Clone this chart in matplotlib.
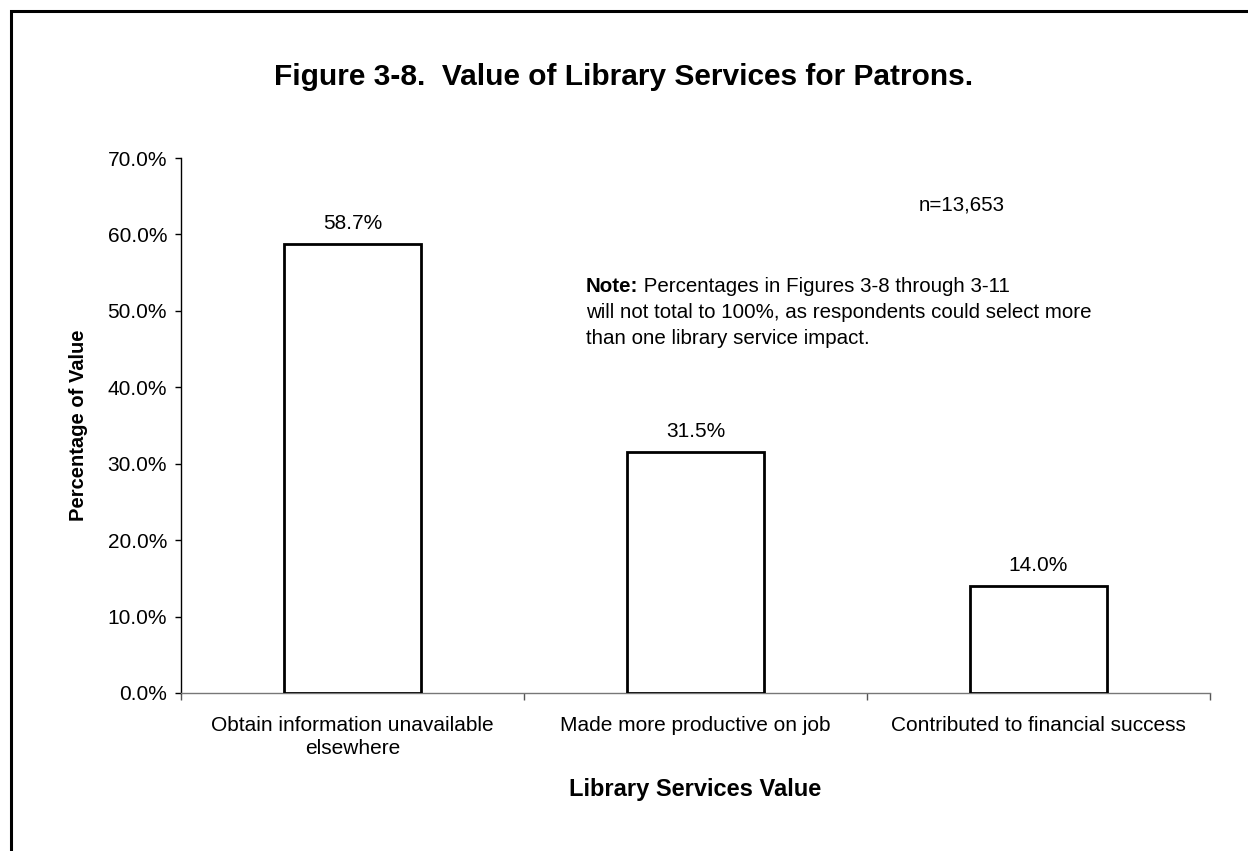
import matplotlib
matplotlib.use("Agg")
import matplotlib.pyplot as plt
from matplotlib.patches import Rectangle

plt.rcParams['font.family'] = ['Liberation Sans', 'DejaVu Sans']

categories = ["Obtain information unavailable\nelsewhere",
              "Made more productive on job",
              "Contributed to financial success"]
values = [58.7, 31.5, 14.0]
value_labels = ["58.7%", "31.5%", "14.0%"]
yticks = [0, 10, 20, 30, 40, 50, 60, 70]
ytick_labels = ["0.0%", "10.0%", "20.0%", "30.0%", "40.0%", "50.0%", "60.0%", "70.0%"]

W, H = 1248, 851
fig = plt.figure(figsize=(W / 100, H / 100), dpi=100)
fig.patch.set_facecolor("white")

# outer frame (clipped at right and bottom)
fig.add_artist(Rectangle((11 / W, -0.1), 1.2, (H - 11) / H + 0.1, transform=fig.transFigure,
                         fill=False, edgecolor="black", linewidth=2.2))

left, right, top, bottom = 181, 1210, 158, 693
ax = fig.add_axes([left / W, 1 - bottom / H, (right - left) / W, (bottom - top) / H])

x = list(range(len(categories)))
ax.bar(x, values, width=0.4, color="white", edgecolor="black", linewidth=2, zorder=3)
for xi, v, lab in zip(x, values, value_labels):
    ax.annotate(lab, (xi, v), xytext=(0, 11), textcoords="offset points",
                ha="center", va="baseline", fontsize=15)

ax.set_xlim(-0.5, 2.5)
ax.set_ylim(0, 70)
ax.set_yticks(yticks)
ax.set_yticklabels(ytick_labels, fontsize=15)
ax.set_xticks([-0.5, 0.5, 1.5, 2.5])
ax.set_xticklabels([])
ax.set_xticks(x, minor=True)
ax.set_xticklabels(categories, minor=True, fontsize=15, linespacing=1.3)
ax.tick_params(axis='x', which='minor', length=0, pad=16.5)
ax.tick_params(axis='x', which='major', length=5, width=1, color="#555555")
ax.tick_params(axis='y', length=4, width=1, pad=6)
for s in ["top", "right"]:
    ax.spines[s].set_visible(False)
ax.spines["left"].set_color("black")
ax.spines["bottom"].set_color("#777777")
ax.spines["left"].set_linewidth(1)
ax.spines["bottom"].set_linewidth(1)

ax.set_ylabel("Percentage of Value", fontsize=14.5, fontweight="bold", labelpad=14)
ax.set_xlabel("Library Services Value", fontsize=17, fontweight="bold", labelpad=14)

fig.text(624 / W, 1 - 77 / H, "Figure 3-8.  Value of Library Services for Patrons.",
         ha="center", va="center", fontsize=21.5, fontweight="bold")

ax.text(962 / W, 1 - 205 / H, "n=13,653", transform=fig.transFigure,
        ha="center", va="center", fontsize=14.8)

note_x = 586 / W
t1 = ax.text(note_x, 1 - 286 / H, "Note:", transform=fig.transFigure,
             ha="left", va="center", fontsize=14.8, fontweight="bold")
fig.canvas.draw()
bb = t1.get_window_extent()
ax.text(bb.x1 / W, 1 - 286 / H, " Percentages in Figures 3-8 through 3-11",
        transform=fig.transFigure, ha="left", va="center", fontsize=14.8)
ax.text(note_x, 1 - 312.5 / H, "will not total to 100%, as respondents could select more",
        transform=fig.transFigure, ha="left", va="center", fontsize=14.8)
ax.text(note_x, 1 - 339 / H, "than one library service impact.",
        transform=fig.transFigure, ha="left", va="center", fontsize=14.8)

fig.savefig("out.png", dpi=100, facecolor="white")
